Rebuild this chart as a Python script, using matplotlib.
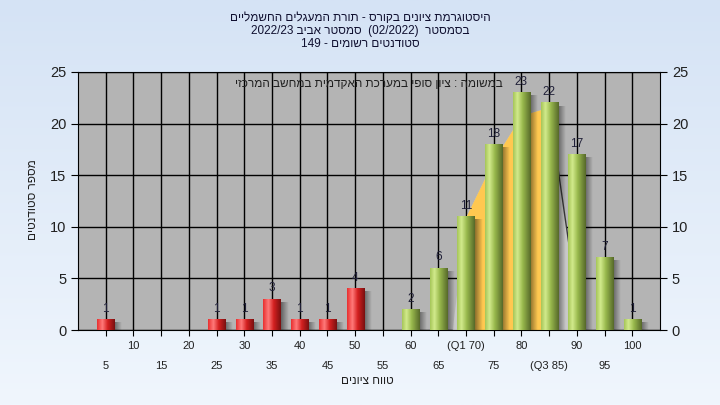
import numpy as np
import matplotlib
matplotlib.use('Agg')
import matplotlib.pyplot as plt
from matplotlib.colors import LinearSegmentedColormap

plt.rcParams['font.family'] = ['Liberation Sans', 'DejaVu Sans']


def heb(s):
    # matplotlib has no bidi, so hebrew is written in visual order
    return s[::-1]


grades = [5, 10, 15, 20, 25, 30, 35, 40, 45, 50, 55, 60, 65, 70, 75, 80, 85, 90, 95, 100]
counts = [1, 0, 0, 0, 1, 1, 3, 1, 1, 4, 0, 2, 6, 11, 18, 23, 22, 17, 7, 1]
tick_labels = ['5', '10', '15', '20', '25', '30', '35', '40', '45', '50', '55', '60', '65',
               '(Q1 70)', '75', '80', '(Q3 85)', '90', '95', '100']
pass_grade = 56
q1, q3 = 70, 85
band_x = [67.5, 70, 75, 80, 85, 90.8]
band_y = [0, 11, 16.5, 20.8, 21.6, 0]

title_lines = [
    heb("היסטוגרמת ציונים בקורס - תורת המעגלים החשמליים"),
    "2022/23 " + heb("סמסטר אביב") + "  (02/2022)  " + heb("בסמסטר"),
    "149 - " + heb("סטודנטים רשומים"),
]
note = heb("במשומה : ציון סופי במערכת האקדמית במחשב המרכזי")
xlabel = heb("טווח ציונים")
ylabel = heb("מספר סטודנטים")

fig = plt.figure(figsize=(7.2, 4.05), dpi=100)

# background gradient
bg = fig.add_axes([0, 0, 1, 1], zorder=-10)
bg_cmap = LinearSegmentedColormap.from_list('bg', ['#f0f6fd', '#d5e3f5'])
bg.imshow(np.linspace(0, 1, 256)[:, None], aspect='auto', cmap=bg_cmap,
          origin='lower', extent=[0, 1, 0, 1])
bg.axis('off')

ax = fig.add_axes([78 / 720, 1 - 330 / 405, 582 / 720, 258 / 405])
ax.set_facecolor('#b4b4b4')

red_cm = LinearSegmentedColormap.from_list('r', [(0, '#e83030'), (0.3, '#ff7a7a'), (0.6, '#d42020'), (1, '#7a1010')])
green_cm = LinearSegmentedColormap.from_list('g', [(0, '#a6c659'), (0.25, '#d2ea8c'), (0.55, '#98b84c'), (1, '#56692a')])
grad = np.linspace(0, 1, 64)[None, :]
w = 3.1

# soft shadow: black fading out to the right
shadow = np.zeros((1, 32, 4))
shadow[..., 3] = np.linspace(0.45, 0.0, 32)

# quartile band
ax.fill_between(band_x, band_y, color='#c8c8c8', lw=0, zorder=1.6)
ax.fill_between(band_x, band_y, where=[q1 <= v <= q3 for v in band_x],
                color='#ffc850', lw=0, zorder=1.7)
ax.plot(band_x[-2:], band_y[-2:], color='#3a3a3a', lw=1, zorder=1.8)

for x, c in zip(grades, counts):
    if c == 0:
        continue
    cm = red_cm if x < pass_grade else green_cm
    ax.imshow(shadow, extent=[x + w / 2, x + w / 2 + 1.3, 0, c - 0.3], aspect='auto', zorder=2.5)
    ax.imshow(grad, extent=[x - w / 2, x + w / 2, 0, c], aspect='auto', cmap=cm, zorder=3)
    ax.text(x, c + 0.45, str(c), ha='center', va='bottom', fontsize=8.5, color='#202038', zorder=4)

ax.set_xlim(0, 105)
ax.set_ylim(0, 25)
ax.set_xticks(grades)
ax.set_xticklabels(tick_labels)
ax.set_yticks(range(0, 26, 5))
ax.grid(True, color='black', lw=1)
ax.set_axisbelow(True)
for s in ax.spines.values():
    s.set_color('black')

ax.tick_params(axis='y', left=True, right=True, labelleft=True, labelright=True,
               length=5, labelsize=10.5, labelcolor='#202020')
ax.tick_params(axis='x', length=4, labelsize=8, labelcolor='#202020')
for i, t in enumerate(ax.xaxis.get_major_ticks()):
    t.set_pad(4 if i % 2 == 1 else 18)

ax.text(0.5, 0.955, note, transform=ax.transAxes, ha='center', va='center',
        fontsize=8.5, color='#202020')

for i, line in enumerate(title_lines):
    fig.text(0.5, 1 - (18 + 13 * i) / 405, line, ha='center', va='center',
             fontsize=8.5, color='#101030')

fig.text(367 / 720, 1 - 381 / 405, xlabel, ha='center', va='center', fontsize=8.5, color='#202020')
fig.text(33 / 720, 1 - 200 / 405, ylabel, ha='center', va='center', rotation=90,
         fontsize=8.5, color='#202020')

fig.savefig('out.png', dpi=100)
